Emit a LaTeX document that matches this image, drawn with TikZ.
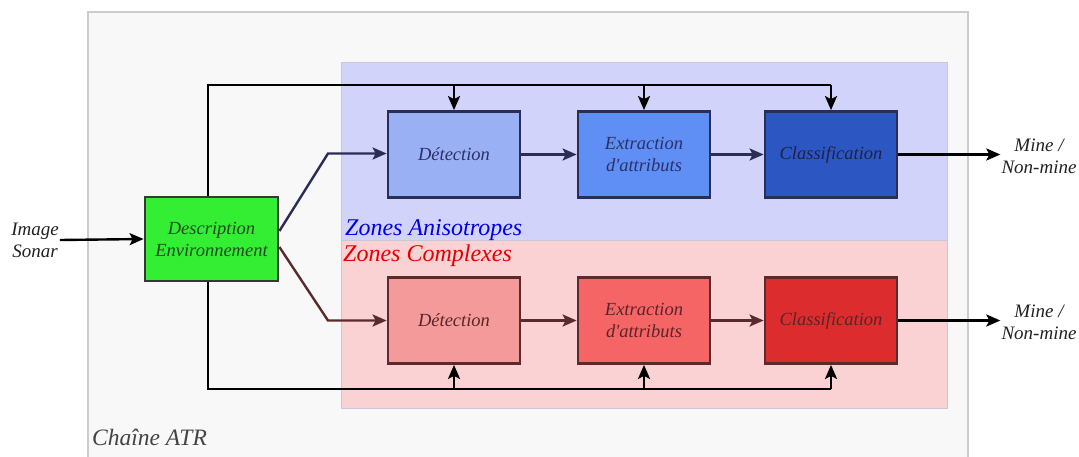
\documentclass[tikz,border=0pt]{standalone}
\usepackage{fontspec}
\setmainfont{Liberation Serif}[Ligatures=TeXOff]
\usetikzlibrary{arrows.meta,calc}
\definecolor{frameF}{HTML}{F8F8F8}
\definecolor{frameD}{HTML}{CCCCCC}
\definecolor{zoneB}{HTML}{D2D3FA}
\definecolor{zoneR}{HTML}{FAD2D3}
\definecolor{zoneD}{HTML}{C8C8D8}
\definecolor{bA}{HTML}{9AB0F5}
\definecolor{bB}{HTML}{5F8EF5}
\definecolor{bC}{HTML}{2C56C2}
\definecolor{rA}{HTML}{F59A9A}
\definecolor{rB}{HTML}{F56566}
\definecolor{rC}{HTML}{DD2C2D}
\definecolor{bEdge}{HTML}{2A2D55}
\definecolor{rEdge}{HTML}{5A2A2C}
\definecolor{bText}{HTML}{2B3068}
\definecolor{rText}{HTML}{5A2428}
\definecolor{gFill}{HTML}{33EE33}
\definecolor{gText}{HTML}{1E4A1E}
\definecolor{txt}{HTML}{222222}
\begin{document}
\begin{tikzpicture}[x=1pt,y=-1pt,
  box/.style={draw, line width=2.8pt, minimum width=132pt, minimum height=86pt, inner sep=2pt, align=center,
    font=\fontsize{18.5}{22}\selectfont\itshape},
  bbox/.style={box, draw=bEdge, text=bText},
  rbox/.style={box, draw=rEdge, text=rText},
  lbl/.style={align=center, font=\fontsize{19}{22}\selectfont\itshape, text=txt, inner sep=1pt},
  arr/.style={line width=2.4pt, -{Stealth[length=14pt,width=12pt,inset=3pt]}},
  barr/.style={arr, draw=bEdge},
  rarr/.style={arr, draw=rEdge},
  karr/.style={arr, draw=black},
]
\useasboundingbox (0,0) rectangle (1079,456);
\fill[white] (0,0) rectangle (1079,456);
\clip (0,0) rectangle (1079,456);
% frame
\draw[draw=frameD, fill=frameF, line width=1.5pt] (88,12) rectangle (968,470);
\node[anchor=base west, font=\fontsize{23.5}{27}\selectfont\itshape, text=txt!85, inner sep=0pt] (chain) at (92,445) {Chaîne ATR};
% zones
\fill[zoneB] (341,62) rectangle (947,240);
\fill[zoneR] (341,240) rectangle (947,408);
\draw[zoneD, line width=1pt] (341,62) rectangle (947,408);
\draw[zoneD, line width=1pt] (341,240) -- (947,240);
\node[anchor=base west, font=\fontsize{24}{28}\selectfont\itshape, text=blue!90!black, inner sep=0pt] (za) at (345,235) {Zones Anisotropes};
\node[anchor=base west, font=\fontsize{24}{28}\selectfont\itshape, text=red!90!black, inner sep=0pt] (zc) at (343,261) {Zones Complexes};
% boxes
\node[bbox, fill=bA] (dA) at (454,154.5) {Détection};
\node[bbox, fill=bB] (eA) at (644,154.5) {Extraction\\d'attributs};
\node[bbox, fill=bC, text=bText!70!black] (cA) at (831,154.5) {Classification};
\node[rbox, fill=rA] (dR) at (454,320.5) {Détection};
\node[rbox, fill=rB] (eR) at (644,320.5) {Extraction\\d'attributs};
\node[rbox, fill=rC] (cR) at (831,320.5) {Classification};
\node[box, draw=txt!90, fill=gFill, text=gText, minimum width=133pt, minimum height=84pt] (de) at (211.5,239) {Description\\Environnement};
% labels
\node[lbl] (img) at (35,240) {Image\\Sonar};
\node[lbl] (oA) at (1039,156) {Mine /\\Non-mine};
\node[lbl] (oR) at (1039,322) {Mine /\\Non-mine};
% connectors
\draw[karr] (img.east) -- (de.west);
\coordinate (top) at (0,85);
\coordinate (bot) at (0,389);
\draw[line width=2.4pt] (de.north -| 208,0) |- (cA.north |- top);
\draw[karr] (dA.north |- top) -- (dA.north);
\draw[karr] (eA.north |- top) -- (eA.north);
\draw[karr] (cA.north |- top) -- (cA.north);
\draw[line width=2.4pt] (de.south -| 208,0) |- (cR.south |- bot);
\draw[karr] (dR.south |- bot) -- (dR.south);
\draw[karr] (eR.south |- bot) -- (eR.south);
\draw[karr] (cR.south |- bot) -- (cR.south);
\coordinate (kA) at (328,153.5);
\coordinate (kR) at (328,320.5);
\draw[barr] (de.east |- 0,231) -- (kA) -- (dA.west |- kA);
\draw[rarr] (de.east |- 0,247) -- (kR) -- (dR.west |- kR);
\draw[barr] (dA.east) -- (eA.west);
\draw[barr] (eA.east) -- (cA.west);
\draw[rarr] (dR.east) -- (eR.west);
\draw[rarr] (eR.east) -- (cR.west);
\draw[karr] (cA.east) -- (oA.west |- cA.east);
\draw[karr] (cR.east) -- (oR.west |- cR.east);
\end{tikzpicture}
\end{document}
